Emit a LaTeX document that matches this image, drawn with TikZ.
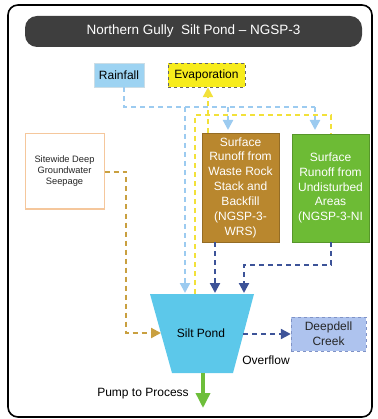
\documentclass[tikz,border=0pt]{standalone}
\usepackage{fontspec}
\setmainfont{Liberation Sans}
\usetikzlibrary{arrows.meta}
\definecolor{titlebg}{HTML}{3E3E3E}
\definecolor{rainfill}{HTML}{9DD3F2}
\definecolor{evapfill}{HTML}{F7EC1C}
\definecolor{brownfill}{HTML}{B9872E}
\definecolor{greenfill}{HTML}{6DBB35}
\definecolor{siteborder}{HTML}{F5C79C}
\definecolor{pondfill}{HTML}{5CC8EA}
\definecolor{creekfill}{HTML}{AEC3EE}
\definecolor{creekborder}{HTML}{7F92C6}
\definecolor{lblue}{HTML}{9CCBF0}
\definecolor{yel}{HTML}{F2E13A}
\definecolor{dblue}{HTML}{3D5398}
\definecolor{tan}{HTML}{C9A040}
\definecolor{pumpgreen}{HTML}{6DBE3A}
\tikzset{
  box/.style={draw, inner sep=1pt, align=center, font=\fontsize{12}{14.8}\selectfont},
  flow/.style={line width=2.2pt, dash pattern=on 5pt off 4pt, -{Triangle[length=10pt,width=10pt]}},
  flownotip/.style={line width=2.2pt, dash pattern=on 5pt off 4pt},
  lbl/.style={font=\fontsize{12}{14}\selectfont, inner sep=0pt}
}
\begin{document}
\begin{tikzpicture}[x=1pt,y=-1pt]
\useasboundingbox (0,0) rectangle (377,419);
% outer frame
\draw[line width=1.6pt, rounded corners=10pt] (8,5) rectangle (372,417);
% title
\node[fill=titlebg, rounded corners=12pt, minimum width=337pt, minimum height=31pt, text=white, font=\fontsize{13.5}{16}\selectfont] (title) at (193.5,31.5) {Northern Gully\ \ Silt Pond -- NGSP-3};
% boxes
\node[box, draw=rainfill!80!black!40, fill=rainfill, minimum width=50pt, minimum height=24pt] (rain) at (119,75) {Rainfall};
\node[box, draw=black!60, dashed, fill=evapfill, minimum width=77pt, minimum height=24pt] (evap) at (206.5,75) {Evaporation};
\node[box, draw=brownfill!80!black, fill=brownfill, text=white, minimum width=77pt, minimum height=109pt] (brown) at (240.5,187.5) {Surface\\Runoff from\\Waste Rock\\Stack and\\Backfill\\(NGSP-3-\\WRS)};
\node[box, draw=greenfill!80!black, fill=greenfill, text=white, minimum width=77pt, minimum height=108pt] (green) at (330.5,188) {Surface\\Runoff from\\Undisturbed\\Areas\\(NGSP-3-NI};
\node[box, draw=siteborder, line width=1pt, fill=white, minimum width=79pt, minimum height=75pt, font=\fontsize{9.3}{11}\selectfont, text=black!85] (site) at (64.5,171.5) {Sitewide Deep\\Groundwater\\Seepage};
\node[box, draw=creekborder, dashed, fill=creekfill, minimum width=75pt, minimum height=34pt, text=black!85] (creek) at (328.5,334) {Deepdell\\Creek};
% pond
\coordinate (pTL) at (150,294);
\coordinate (pTR) at (254,294);
\coordinate (pBR) at (233,373);
\coordinate (pBL) at (172,373);
\fill[pondfill] (pTL) -- (pTR) -- (pBR) -- (pBL) -- cycle;
\node[lbl] (pond) at (201,333) {Silt Pond};
% pond attachment points
\coordinate (pInRain) at (185,293);
\coordinate (pOutEvap) at (195,294);
\coordinate (pInBrown) at (215,293);
\coordinate (pInGreen) at (244,293);
\coordinate (pInSite) at (161,333);
\coordinate (pOutOver) at (243,334);
\coordinate (pOutPump) at (203,373);
% rainfall (light blue)
\draw[flownotip, lblue] (rain.south -| 124,0) -- (124,107) -- (315,107);
\draw[flow, lblue] (315,107) -- (315,130);
\draw[flow, lblue] (228,107) -- (228,130);
\draw[flow, lblue] (185,107) -- (pInRain);
% evaporation (yellow)
\draw[flownotip, yel] (pOutEvap) -- (195,115) -- (331,115) -- (green.north -| 331,0);
\draw[flow, yel] (brown.north -| 208,0) -- (evap.south -| 208,0);
% surface runoff (dark blue)
\draw[flow, dblue] (brown.south -| 215,0) -- (pInBrown);
\draw[flow, dblue] (green.south -| 331,0) -- (331,265) -- (244,265) -- (pInGreen);
% seepage (tan)
\draw[flow, tan] (site.east |- 0,172) -- (126,172) -- (126,333) -- (pInSite);
% overflow
\draw[flow, dblue] (pOutOver) -- (creek.west);
\node[lbl] (over) at (266,360) {Overflow};
% pump
\draw[line width=3.5pt, pumpgreen, -{Triangle[length=15pt,width=14pt]}] (pOutPump) -- (203,408);
\node[lbl] (pump) at (143,394) {Pump to Process};
\end{tikzpicture}
\end{document}
